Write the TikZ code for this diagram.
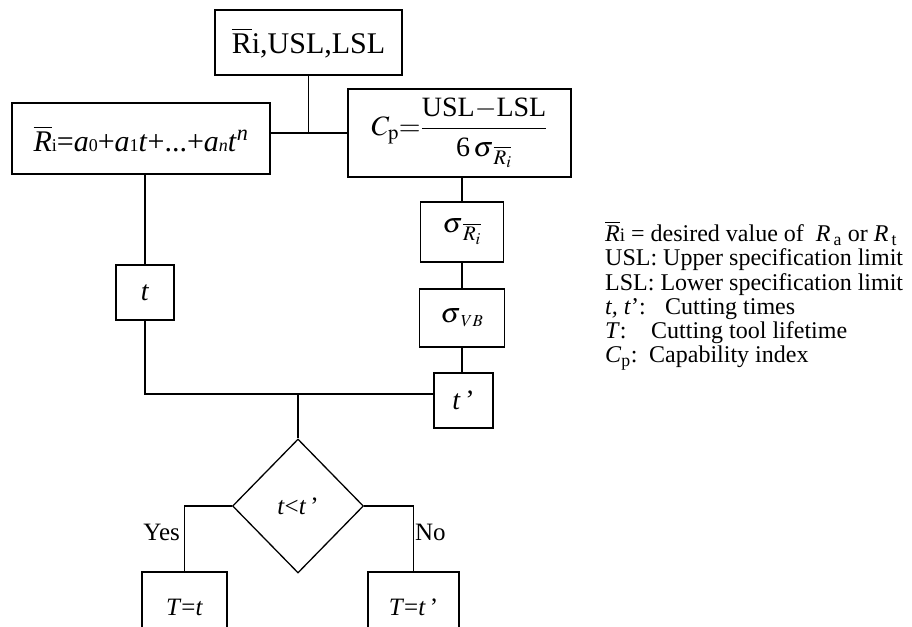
\documentclass[tikz,border=0pt]{standalone}
\usepackage{amsmath}
\usepackage{mathptmx}
\usepackage{fontspec}
\setmainfont{Liberation Serif}
\usetikzlibrary{positioning,shapes.geometric}

\newcommand{\Rb}{$\overline{\mbox{\itshape R}}$}
\newcommand{\tinyidx}[1]{{\fontsize{18}{18}\selectfont #1}}

\begin{document}
\begin{tikzpicture}[
    x=1pt, y=-1pt,
    blk/.style={draw, line width=1.3pt, inner sep=0pt, align=center, font=\fontsize{28}{30}\selectfont},
    cond/.style={draw, diamond, aspect=1, line width=1.3pt, inner sep=0pt, minimum width=131pt, minimum height=134pt, font=\fontsize{25}{27}\selectfont},
    wire/.style={line width=1.3pt},
    lbl/.style={font=\fontsize{25}{27}\selectfont, inner sep=4pt}
]
\clip (0,0) rectangle (912,626);
\node[blk, minimum width=187pt, minimum height=65pt, font=\fontsize{30}{32}\selectfont] (inp) at (308.5,42.5) {$\overline{\mbox{R}}$i,USL,LSL};
\node[blk, minimum width=258pt, minimum height=71pt, font=\fontsize{30}{32}\selectfont] (poly) at (141,138.5) {\Rb\tinyidx{i}=\textit{a}\tinyidx{0}+\textit{a}\tinyidx{1}\textit{t}+...+\textit{a}\tinyidx{\textit{n}}\textit{t}\textsuperscript{\textit{n}}};
\node[blk, minimum width=223pt, minimum height=88pt] (cp) at (459.5,133) {\raisebox{-4pt}{$C_{\mathrm{p}}{=}\dfrac{\mbox{USL$-$LSL}}{\rule{0pt}{24pt}\mbox{6}\,\sigma_{\mkern3mu\overline{R_i}}}$}};
\node[blk, minimum width=83pt, minimum height=60pt] (sigR) at (462,232) {$\sigma_{\mkern3mu\overline{R_i}}$};
\node[blk, minimum width=85pt, minimum height=58pt] (sigVB) at (462,318) {$\sigma_{\mkern3mu\scriptscriptstyle VB}$};
\node[blk, minimum width=59pt, minimum height=55pt] (tp) at (463.5,400.5) {\textit{t}\,’};
\node[blk, minimum width=58pt, minimum height=55pt] (tbox) at (145,292.5) {\textit{t}};
\node[cond] (dec) at (298,506) {\textit{t}<\textit{t}\,’};
\node[blk, minimum width=85pt, minimum height=70pt, font=\fontsize{25}{27}\selectfont] (Tt) at (184.5,607) {\textit{T}=\textit{t}};
\node[blk, minimum width=91pt, minimum height=70pt, font=\fontsize{25}{27}\selectfont] (Ttp) at (413.5,607) {\textit{T}=\textit{t}\,’};

% junctions
\coordinate (j1) at (inp.south |- cp.west);
\coordinate (j2) at (dec.north |- 0,394);

\draw[wire] (inp.south) -- (j1);
\draw[wire] (poly.east |- j1) -- (cp.west);
\draw[wire] (poly.south -| tbox) -- (tbox.north);
\draw[wire] (tbox.south) |- (tp.west |- j2);
\draw[wire] (j2) -- (dec.north);
\draw[wire] (cp.south -| sigR) -- (sigR.north);
\draw[wire] (sigR) -- (sigVB);
\draw[wire] (sigVB.south) -- (sigVB.south |- tp.north);
\draw[wire] (dec.west) -| node[lbl, pos=0.7, left] {Yes} (Tt.north);
\draw[wire] (dec.east) -| node[lbl, pos=0.7, right, inner sep=1pt] {No} (Ttp.north);

% legend
\node[anchor=north west, align=left, inner sep=0pt, font=\fontsize{24}{24.2}\selectfont] (key) at (605,221) {%
\Rb{\fontsize{19}{19}\selectfont i} = desired value of\ \ \textit{R}\kern3pt\textsubscript{a} or \textit{R}\kern3pt\textsubscript{t}\\
USL: Upper specification limit\\
LSL: Lower specification limit\\
\makebox[60pt][l]{\textit{t, t}’:}Cutting times\\
\makebox[46pt][l]{\textit{T}:}Cutting tool lifetime\\
\makebox[44pt][l]{\textit{C}\textsubscript{p}:}Capability index};
\end{tikzpicture}
\end{document}
